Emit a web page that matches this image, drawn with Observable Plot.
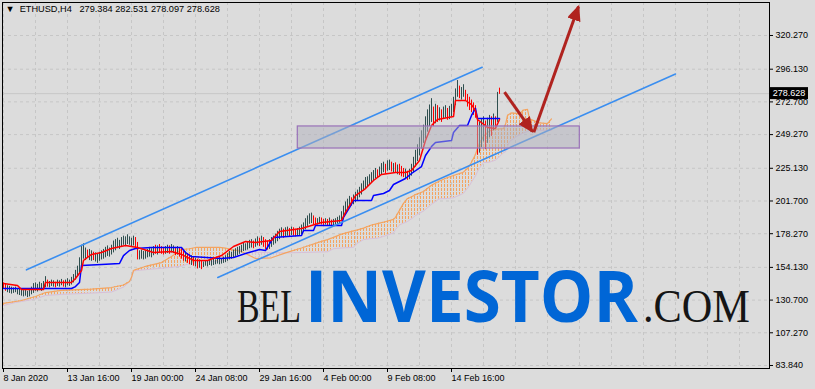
<!DOCTYPE html>
<html><head><meta charset="utf-8">
<script src="https://cdn.jsdelivr.net/npm/d3@7"></script>
<script src="https://cdn.jsdelivr.net/npm/@observablehq/plot@0.6"></script>
<style>
html,body{margin:0;padding:0;background:#dcdcdc;}
#chart{position:relative;width:815px;height:389px;overflow:hidden;}
</style></head><body>
<div id="chart"></div>
<script>
// ---------- data ----------
const symbol = "ETHUSD", timeframe = "H4";
const lastOHLC = [279.384, 282.531, 278.097, 278.628];

const xTickBars = [0, 32, 64, 96, 128, 160, 192, 224];
const xTickLabels = ["8 Jan 2020","13 Jan 16:00","19 Jan 00:00","24 Jan 08:00","29 Jan 16:00","4 Feb 00:00","9 Feb 08:00","14 Feb 16:00"];
const yTickLabels = ["83.840","107.270","130.700","154.130","178.270","201.700","225.130","249.270","272.700","296.130","320.270"];

const highs = [143.0,142.5,141.0,140.5,140.0,139.5,140.0,139.0,138.5,138.0,
137.5,138.0,137.0,138.5,140.0,142.5,143.0,142.0,143.5,142.5,
144.0,147.5,145.0,144.0,145.0,144.5,143.5,145.0,144.5,145.5,
144.5,145.0,146.0,145.0,147.0,149.0,152.0,155.0,161.0,170.0,
171.0,168.0,166.5,167.0,166.0,165.0,164.5,164.0,165.0,166.0,
167.0,168.5,169.5,168.0,170.0,173.0,174.0,175.0,173.5,175.5,
176.5,176.0,177.5,176.0,175.0,176.5,175.5,172.0,166.0,166.5,
165.5,166.0,167.0,168.5,167.5,169.0,170.0,169.5,170.5,169.0,
168.5,169.0,170.0,169.5,170.5,169.5,168.5,169.0,168.0,167.5,
166.0,165.0,164.0,163.0,162.5,161.5,160.5,160.0,159.5,159.0,
158.0,159.0,158.5,159.5,159.0,160.0,159.5,160.5,161.0,160.5,
161.5,162.5,164.0,165.5,165.0,166.5,167.5,168.5,169.0,170.0,
171.5,171.0,172.5,173.5,174.0,173.0,174.5,176.0,175.0,176.5,
175.5,174.0,173.0,174.0,175.5,176.5,178.0,180.0,181.5,182.5,
181.5,182.5,183.0,182.0,183.0,182.5,181.5,182.0,183.0,184.5,
186.0,189.0,191.0,192.5,193.0,191.0,189.5,189.0,190.0,189.5,
188.5,189.0,188.5,189.5,188.0,188.5,189.0,190.0,191.0,194.0,
198.0,201.0,203.0,205.0,204.0,206.0,208.0,209.5,211.5,214.0,
216.0,218.5,219.0,220.5,222.0,223.5,225.0,224.0,226.0,228.5,
229.5,228.0,230.5,231.0,229.5,228.5,229.0,227.5,228.0,226.5,
225.0,224.5,223.0,224.5,228.0,233.0,238.0,242.0,247.0,252.0,
256.0,262.0,267.0,270.5,275.0,269.0,271.0,270.0,268.5,267.0,
269.0,270.0,268.0,269.5,271.0,276.0,282.0,288.0,284.0,283.0,
285.0,281.0,278.0,276.0,274.0,272.0,270.0,262.0,258.0,260.0,
262.0,259.0,261.0,263.0,262.0,264.0,262.0,279.5,282.531];

const lows = [138.5,137.0,136.0,135.5,135.0,135.5,136.0,134.5,134.0,133.5,
133.0,133.5,132.5,133.0,134.5,135.5,137.0,136.5,137.5,137.0,
138.0,139.5,140.0,139.5,140.5,140.0,139.5,140.5,140.0,141.0,
140.0,139.5,141.0,140.5,141.5,143.0,145.0,148.0,150.0,155.0,
160.0,159.0,160.5,159.0,158.5,159.0,158.0,157.0,158.5,159.5,
160.0,161.0,162.0,161.5,163.0,164.5,166.0,167.5,167.0,168.5,
170.0,169.0,170.5,170.0,168.5,169.5,168.0,159.5,159.5,160.0,
159.5,160.0,161.0,161.5,161.0,162.5,163.5,163.0,164.0,163.5,
163.0,163.5,164.0,163.5,164.5,164.0,162.5,163.0,161.5,160.0,
158.5,158.0,157.0,156.0,155.5,155.0,154.5,153.0,153.5,152.5,
154.0,155.0,154.5,155.5,155.0,155.5,156.0,156.5,156.0,156.5,
157.0,157.5,158.5,159.5,160.0,161.0,162.0,162.5,163.5,164.5,
165.5,166.0,166.5,167.5,168.0,167.5,168.5,169.5,169.0,170.0,
168.5,167.0,166.5,167.0,168.5,170.0,171.0,172.5,174.0,175.5,
175.0,176.0,176.5,176.0,177.0,176.5,176.0,176.5,177.0,177.5,
179.0,181.0,183.5,185.0,185.5,184.5,184.0,184.5,185.0,184.5,
184.0,184.5,183.5,184.0,183.5,184.0,184.5,185.0,185.5,187.0,
189.0,192.0,195.0,197.5,198.0,199.0,200.5,202.0,204.0,206.0,
208.5,210.5,212.0,213.0,215.0,216.0,217.5,218.0,219.0,220.5,
222.0,221.0,223.0,223.5,222.5,222.0,221.5,220.5,220.0,219.0,
218.5,217.5,216.5,217.0,219.5,222.0,226.0,230.0,234.0,239.0,
243.0,246.0,251.0,255.0,258.0,255.0,257.0,258.0,259.0,258.0,
260.5,261.0,259.5,260.0,262.0,265.0,270.0,276.0,275.0,274.0,
276.0,273.0,269.0,266.5,265.0,263.0,261.0,234.5,236.0,240.0,
244.0,238.5,243.0,247.0,248.0,252.0,253.0,258.0,278.097];

const downBars = [0,1,22,26,30,42,45,66,67,76,78,79,80,83,86,88,89,90,92,93,95,97,99,125,128,130,131,132,140,143,145,146,155,156,159,160,162,164,174,187,191,194,196,198,199,200,202,215,217,219,222,228,231,232,233,234,235,236,237,241,244,246,248];

const tenkanBars = [0,7,9,20,21,34,36,39,40,44,49,54,61,67,75,84,89,95,102,109,115,121,126,134,138,149,159,169,171,176,181,185,189,196,201,204,208,211,214,217,225,226,231,234,236,237,242,246,248];
const tenkanVals = [142.6,141.2,138.3,138.3,143.3,143.3,146.2,151.9,159.1,163.4,164.8,167.7,169.8,168.4,164.8,165.5,163.4,159.1,159.1,162.6,169.1,172.7,172.0,173.4,179.8,182.0,186.3,187.7,193.5,205.6,210.6,216.4,220.7,222.1,222.1,223.5,230.7,245.0,255.8,260.1,262.2,273.7,273.7,270.8,266.5,260.1,254.4,253.6,260.1];

const kijunBars = [0,34,36,38,39,49,58,60,63,66,74,89,91,94,109,115,121,128,131,134,135,149,150,155,156,169,170,173,175,184,185,190,193,195,201,204,209,211,214,216,224,225,228,232,234,236,237,248];
const kijunVals = [139.0,139.0,140.4,143.3,155.5,156.2,156.9,162.6,166.2,167.7,168.4,168.4,164.8,161.9,160.5,161.2,164.1,166.9,166.2,173.4,175.6,177.0,180.6,180.6,184.1,184.1,189.9,197.0,202.1,202.1,205.6,207.1,209.2,213.5,217.8,221.4,226.4,234.3,240.7,243.6,245.0,250.8,255.8,255.8,263.0,268.0,260.8,260.8];

const cloudBars = [0,6,9,16,21,29,44,54,60,63,64,65,66,71,79,84,89,93,96,98,108,111,113,115,116.5,117,119,126,134,141,149,159,162,165,169,175,177,180,184,187,190,195,196,198,199,200,202,203,205,206,210,214,218,222,225,229,230,232,233,234,236,237,238,240,243,244,246,248,250,251,252,253,254,257,258,260,262,263,268,272,274];
const spanA = [128.3,129.7,130.4,133.3,136.1,137.6,138.6,139.7,141.5,144.0,147.0,151.9,152.5,154.8,157.6,161.9,166.9,167.5,168.4,168.4,168.4,168.0,167.2,166.5,166.4,166.2,165.5,160.5,161.0,164.5,168.0,172.8,174.0,175.6,178.0,180.3,181.0,182.3,184.5,185.5,186.5,188.5,190.0,195.0,197.5,200.0,203.5,204.0,205.5,206.3,208.5,213.0,216.0,218.5,220.0,221.8,222.5,225.0,227.0,229.5,235.0,239.5,243.0,248.0,251.9,252.3,253.0,253.3,253.5,256.5,263.0,264.0,264.8,264.3,264.0,266.9,267.3,260.5,257.6,257.2,260.5];
const spanB = [126.8,129.0,129.7,131.5,134.0,134.8,135.7,136.5,140.0,143.8,146.8,151.3,151.8,152.5,153.5,154.2,155.0,157.0,157.5,158.5,158.5,159.5,161.3,163.8,166.4,167.0,167.0,165.0,164.8,164.5,164.8,165.2,165.3,167.5,168.0,168.5,171.5,174.0,174.8,175.0,176.3,178.8,181.3,184.5,185.2,185.8,187.0,188.0,190.0,191.3,194.5,199.3,203.3,203.5,204.0,206.5,207.3,210.8,212.8,215.3,219.8,222.8,225.3,229.3,229.5,230.0,231.0,233.5,236.3,237.0,240.5,244.3,245.3,248.3,249.0,250.5,251.5,252.3,252.3,252.3,252.3];

// drawn objects (bar index, price)
const upperChannel = [[11.5, 152.4], [239.35, 297.55]];
const lowerChannel = [[107.15, 146.9], [336.0, 292.7]];
const zone = [{x1: 147.15, x2: 288.15, y1: 239.3, y2: 255.1}];
const arrows = [
  {x1: 250.5, y1: 279.7, x2: 264.35, y2: 251.5},
  {x1: 265.15, y1: 251.0, x2: 287.5, y2: 341.0}
];
const watermark = ["BEL", "INVESTOR", ".COM"];

// ---------- build ----------
const lastClose = lastOHLC[3];
const yTickVals = yTickLabels.map(Number);
const yLabelMap = new Map(yTickVals.map((v, i) => [v, yTickLabels[i]]));
const xLabelMap = new Map(xTickBars.map((b, i) => [b, xTickLabels[i]]));
const downSet = new Set(downBars);
const bars = highs.map((h, i) => ({i, h, l: lows[i], down: downSet.has(i)}));
const cloud = cloudBars.map((b, k) => ({bar: b, a: spanA[k], b2: spanB[k]}));
const tenkan = tenkanBars.map((b, k) => ({bar: b, v: tenkanVals[k]}));
const kijun = kijunBars.map((b, k) => ({bar: b, v: kijunVals[k]}));
const gridBars = d3.range(0, 384, 16);
const titleText = `\u25BC\u00a0\u00a0${symbol},${timeframe}\u00a0\u00a0\u00a0${lastOHLC.map(v => v.toFixed(3)).join(" ")}`;

const plot = Plot.plot({
  width: 815, height: 389,
  marginLeft: 2, marginRight: 46, marginTop: 2, marginBottom: 21,
  x: {type: "linear", domain: [-0.5, 383]},
  y: {type: "linear", domain: [81.69, 343.91]},
  style: {background: "#dcdcdc", fontFamily: "'Liberation Sans', Arial, sans-serif", fontSize: "9px", color: "black", overflow: "visible"},
  marks: [
    Plot.gridY(yTickVals, {stroke: "#c6c6c6", strokeOpacity: 1, strokeDasharray: "3,3"}),
    Plot.gridX(gridBars, {stroke: "#c6c6c6", strokeOpacity: 1, strokeDasharray: "3,3"}),
    Plot.ruleY([lastClose], {stroke: "#c8c8c8"}),
    Plot.areaY(cloud, {x: "bar", y1: d => d.a >= d.b2 ? d.a : NaN, y2: d => d.a >= d.b2 ? d.b2 : NaN, fill: "url(#hatchUp)"}),
    Plot.areaY(cloud, {x: "bar", y1: d => d.a <= d.b2 ? d.a : NaN, y2: d => d.a <= d.b2 ? d.b2 : NaN, fill: "url(#hatchDn)"}),
    Plot.line(cloud, {x: "bar", y: "b2", stroke: "#d8bfd8", strokeWidth: 1}),
    Plot.line(cloud, {x: "bar", y: "a", stroke: "#f4a460", strokeWidth: 1.2}),
    Plot.ruleX(bars.filter(d => !d.down), {x: "i", y1: "l", y2: "h", stroke: "#2f4f4f", strokeWidth: 1}),
    Plot.ruleX(bars.filter(d => d.down), {x: "i", y1: "l", y2: "h", stroke: "#ff0000", strokeWidth: 1}),
    Plot.line(kijun, {x: "bar", y: "v", stroke: "#0000ff", strokeWidth: 1.5}),
    Plot.line(tenkan, {x: "bar", y: "v", stroke: "#ff0000", strokeWidth: 1.5}),
    Plot.line(upperChannel, {x: d => d[0], y: d => d[1], stroke: "#3a8ef0", strokeWidth: 1.6}),
    Plot.line(lowerChannel, {x: d => d[0], y: d => d[1], stroke: "#3a8ef0", strokeWidth: 1.6}),
    Plot.rect(zone, {x1: "x1", x2: "x2", y1: "y1", y2: "y2", fill: "#b0b0bc", fillOpacity: 0.5, stroke: "#9a72b8", strokeWidth: 1.2}),
    Plot.link(arrows, {x1: "x1", y1: "y1", x2: "x2", y2: "y2", stroke: "#b0231f", strokeWidth: 3}),
    Plot.frame({stroke: "black", strokeWidth: 1}),
    Plot.axisY({ticks: yTickVals, anchor: "right", tickSize: 3, tickPadding: 3, tickFormat: d => yLabelMap.get(d), textAnchor: "start", label: null}),
    Plot.axisX({ticks: xTickBars, anchor: "bottom", tickSize: 4, tickPadding: 2, tickFormat: d => xLabelMap.get(d), textAnchor: "start", label: null}),
    Plot.text([titleText], {text: d => d, frameAnchor: "top-left", dx: 3, dy: 3, textAnchor: "start", lineAnchor: "top", fontSize: 9.2})
  ]
});
document.getElementById("chart").appendChild(plot);

// ---------- defs, price label, watermark ----------
const svg = d3.select(plot);
const defs = svg.insert("defs", ":first-child");
defs.append("pattern").attr("id", "hatchUp").attr("patternUnits", "userSpaceOnUse").attr("width", 3).attr("height", 4)
  .append("rect").attr("x", 0).attr("y", 0).attr("width", 1).attr("height", 3).attr("fill", "#f4a460");
defs.append("pattern").attr("id", "hatchDn").attr("patternUnits", "userSpaceOnUse").attr("width", 3).attr("height", 4)
  .append("rect").attr("x", 0).attr("y", 0).attr("width", 1).attr("height", 3).attr("fill", "#d8bfd8");
defs.append("marker").attr("id", "redhead").attr("markerUnits", "userSpaceOnUse")
  .attr("viewBox", "0 0 16 14").attr("markerWidth", 16).attr("markerHeight", 14)
  .attr("refX", 14).attr("refY", 7).attr("orient", "auto")
  .append("path").attr("d", "M0,0L16,7L0,14Z").attr("fill", "#b0231f");
svg.selectAll('g[aria-label="link"] path, g[aria-label="link"] line').attr("marker-end", "url(#redhead)");

const ys = plot.scale("y");
const yApply = ys.apply ? ys.apply : d3.scaleLinear(ys.domain, ys.range);
const py = yApply(lastClose);
const lab = svg.append("g");
lab.append("rect").attr("x", 770).attr("y", py - 6).attr("width", 38).attr("height", 12).attr("fill", "black");
lab.append("text").attr("x", 789).attr("y", py + 3.3).attr("text-anchor", "middle").attr("fill", "white")
  .attr("font-family", "'Liberation Sans', Arial, sans-serif").attr("font-size", 9).text(lastClose.toFixed(3));

// watermark: each word squeezed horizontally to its width in the picture
const wm = svg.append("g").attr("aria-label", "watermark");
const wmSpec = [
  {text: watermark[0], x: 237, w: 64, family: "'Liberation Serif', 'DejaVu Serif', serif", weight: 400, size: 46, fill: "#151515"},
  {text: watermark[1], x: 305, w: 333, family: "'Open Sans', 'Noto Sans', sans-serif", weight: 700, size: 71, fill: "#0066d6"},
  {text: watermark[2], x: 643, w: 107, family: "'Liberation Serif', 'DejaVu Serif', serif", weight: 400, size: 46, fill: "#151515"}
];
for (const s of wmSpec) {
  const t = wm.append("text").attr("text-anchor", "start").attr("font-family", s.family)
    .attr("font-weight", s.weight).attr("font-size", s.size).attr("fill", s.fill).text(s.text);
  const natural = t.node().getComputedTextLength() || s.w;
  t.attr("transform", `translate(${s.x},322) scale(${s.w / natural},1)`);
}
</script>
</body></html>
